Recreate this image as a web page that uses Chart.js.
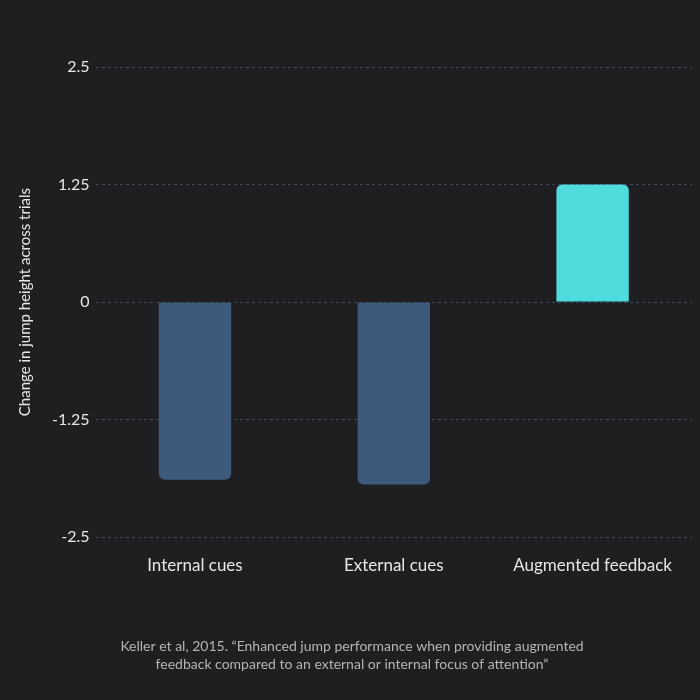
<!DOCTYPE html>
<html><head><meta charset="utf-8">
<script src="https://cdn.jsdelivr.net/npm/chart.js@4"></script>
<style>html,body{margin:0;padding:0;background:#1f1f21;}#w{width:700px;height:700px;}</style>
</head><body><div id="w"><canvas id="c"></canvas></div>
<script>
const categories = ["Internal cues", "External cues", "Augmented feedback"];
const values = [-1.89, -1.94, 1.25];
const barColors = ["#3d5a7a", "#3d5a7a", "#4fdcdc"];
const tickValues = [-2.5, -1.25, 0, 1.25, 2.5];
const tickLabels = ["-2.5", "-1.25", "0", "1.25", "2.5"];
const caption = ["Keller et al, 2015. \u201cEnhanced jump performance when providing augmented", "feedback compared to an external or internal focus of attention\u201d"];

new Chart(document.getElementById('c'), {
  type: 'bar',
  data: { labels: categories, datasets: [{ data: values, backgroundColor: barColors, borderRadius: 6, borderSkipped: 'start', barPercentage: 0.455, categoryPercentage: 0.8 }] },
  options: {
    responsive: true, maintainAspectRatio: false, animation: false,
    layout: { padding: { top: 67, right: 8, left: 12, bottom: 26 } },
    plugins: {
      legend: { display: false }, tooltip: { enabled: false },
      title: { display: true, position: 'bottom', text: caption, color: '#b4b4b4', font: { family: 'Lato', size: 14, weight: 'normal', lineHeight: 1.3 }, padding: { top: 52, bottom: 0 } }
    },
    scales: {
      x: { grid: { display: false }, border: { display: false }, ticks: { color: '#e6e6e6', font: { family: 'Lato', size: 17 }, padding: 10 } },
      y: {
        min: -2.5, max: 2.5,
        afterBuildTicks: (s) => { s.ticks = tickValues.map(v => ({ value: v })); },
        ticks: { color: '#e6e6e6', font: { family: 'Lato', size: 16 }, padding: 6, callback: (v) => tickLabels[tickValues.indexOf(v)] },
        grid: { color: '#3c4a5c', tickLength: 0, drawTicks: false },
        border: { display: false, dash: [3, 3] },
        title: { display: true, text: 'Change in jump height across trials', color: '#e6e6e6', font: { family: 'Lato', size: 15 }, padding: { bottom: 12 } }
      }
    }
  }
});
</script></body></html>
